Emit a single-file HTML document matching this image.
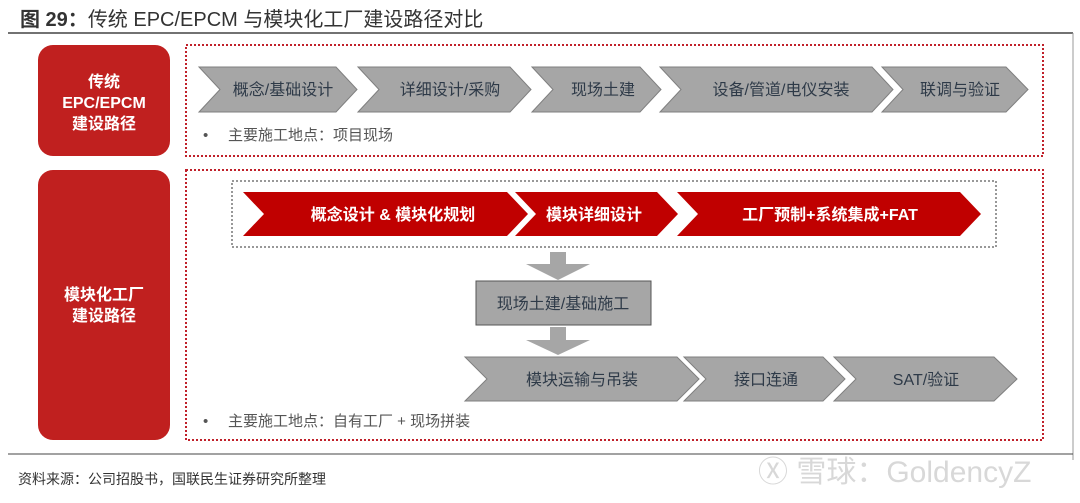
<!DOCTYPE html>
<html><head><meta charset="utf-8"><style>
body{margin:0;background:#fff;}
svg{display:block;font-family:"Liberation Sans","Noto Sans CJK SC",sans-serif;}
</style></head><body>
<svg width="1080" height="503" viewBox="0 0 1080 503" xmlns="http://www.w3.org/2000/svg">
<text x="20" y="26" font-size="20" fill="#333"><tspan font-weight="bold">图 29：</tspan>传统 EPC/EPCM 与模块化工厂建设路径对比</text>
<line x1="8" y1="33" x2="1073" y2="33" stroke="#444" stroke-width="1.5"/>
<line x1="1073" y1="33" x2="1073" y2="460" stroke="#999" stroke-width="1"/>
<line x1="8" y1="454" x2="1073" y2="454" stroke="#444" stroke-width="1"/>

<rect x="38" y="45" width="132" height="111" rx="15" fill="#c0201f"/>
<text font-size="16" fill="#fff" font-weight="bold" text-anchor="middle"><tspan x="104" y="87">传统</tspan><tspan x="104" y="108">EPC/EPCM</tspan><tspan x="104" y="129">建设路径</tspan></text>
<rect x="186" y="45" width="857" height="111" fill="none" stroke="#c0202a" stroke-width="2" stroke-dasharray="2,2"/>

<g fill="#a6a6a6" stroke="#7f7f7f" stroke-width="1">
<polygon points="199,67 336,67 357,89.5 336,112 199,112 220,89.5"/>
<polygon points="358,67 510,67 531,89.5 510,112 358,112 379,89.5"/>
<polygon points="532,67 640,67 661,89.5 640,112 532,112 553,89.5"/>
<polygon points="660,67 872,67 893,89.5 872,112 660,112 681,89.5"/>
<polygon points="882,67 1006,67 1028,89.5 1006,112 882,112 903,89.5"/>
</g>
<g font-size="16" fill="#2e3a48" text-anchor="middle">
<text x="283" y="95">概念/基础设计</text>
<text x="450" y="95">详细设计/采购</text>
<text x="603" y="95">现场土建</text>
<text x="781" y="95">设备/管道/电仪安装</text>
<text x="960" y="95">联调与验证</text>
</g>
<text x="203" y="140" font-size="15" fill="#555">•</text>
<text x="228" y="140" font-size="15" fill="#555">主要施工地点：项目现场</text>

<rect x="38" y="170" width="132" height="270" rx="15" fill="#c0201f"/>
<text font-size="16" fill="#fff" font-weight="bold" text-anchor="middle"><tspan x="104" y="300">模块化工厂</tspan><tspan x="104" y="321">建设路径</tspan></text>
<rect x="186" y="170" width="857" height="270" fill="none" stroke="#c0202a" stroke-width="2" stroke-dasharray="2,2"/>
<rect x="232" y="181" width="764" height="66" fill="none" stroke="#777" stroke-width="1.5" stroke-dasharray="2,2"/>

<g fill="#c00000">
<polygon points="243,192 507,192 528,214 507,236 243,236 264,214"/>
<polygon points="515,192 657,192 678,214 657,236 515,236 536,214"/>
<polygon points="677,192 960,192 981,214 960,236 677,236 698,214"/>
</g>
<g font-size="16" fill="#fff" font-weight="bold" text-anchor="middle">
<text x="393" y="220">概念设计 &amp; 模块化规划</text>
<text x="594" y="220">模块详细设计</text>
<text x="830" y="220">工厂预制+系统集成+FAT</text>
</g>

<polygon points="550,252 566,252 566,264 590,264 558,280 526,264 550,264" fill="#a6a6a6"/>
<rect x="476" y="281" width="175" height="44" fill="#a6a6a6" stroke="#555" stroke-width="1"/>
<text x="563" y="309" font-size="16" fill="#2e3a48" text-anchor="middle">现场土建/基础施工</text>
<polygon points="550,327 566,327 566,340 590,340 558,355 526,340 550,340" fill="#a6a6a6"/>

<g fill="#a6a6a6" stroke="#7f7f7f" stroke-width="1">
<polygon points="465,357 677,357 699,379 677,401 465,401 487,379"/>
<polygon points="684,357 823,357 845,379 823,401 684,401 706,379"/>
<polygon points="834,357 994,357 1017,379 994,401 834,401 856,379"/>
</g>
<g font-size="16" fill="#2e3a48" text-anchor="middle">
<text x="582" y="385">模块运输与吊装</text>
<text x="766" y="385">接口连通</text>
<text x="926" y="385">SAT/验证</text>
</g>
<text x="203" y="426" font-size="15" fill="#555">•</text>
<text x="228" y="426" font-size="15" fill="#555">主要施工地点：自有工厂 + 现场拼装</text>

<text x="18" y="484" font-size="14" fill="#333">资料来源：公司招股书，国联民生证券研究所整理</text>
<text x="758" y="482" font-size="30" fill="#d8d8d8">Ⓧ 雪球：GoldencyZ</text>
</svg>
</body></html>
